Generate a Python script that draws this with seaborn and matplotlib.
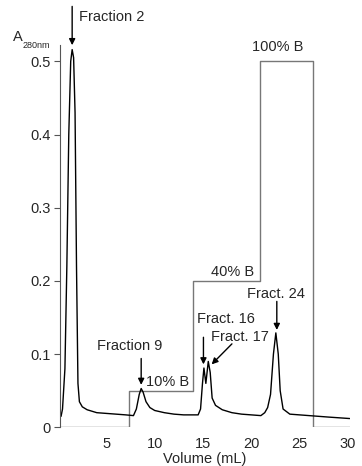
import pandas as pd
import matplotlib.pyplot as plt
import seaborn as sns

# Chromatogram trace (A280)
volume = [0.3, 0.45, 0.7, 0.9, 1.1, 1.3, 1.45, 1.6, 1.75, 1.9, 2.05, 2.2, 2.5, 3.0, 4.0, 5.0, 6.0, 7.0,
          7.8, 8.1, 8.4, 8.6, 8.8, 9.1, 9.5, 10.0, 11.0, 12.0, 13.0, 14.5,
          14.75, 14.95, 15.1, 15.3, 15.55, 15.75, 15.95, 16.3, 17.0, 18.0, 19.0, 20.0, 21.0,
          21.4, 21.7, 22.0, 22.3, 22.55, 22.8, 23.0, 23.3, 24.0, 25.0, 26.0, 28.0, 30.2]
absorbance = [0.015, 0.025, 0.08, 0.22, 0.40, 0.50, 0.516, 0.505, 0.43, 0.22, 0.06, 0.035, 0.028, 0.024,
              0.020, 0.019, 0.018, 0.017,
              0.016, 0.025, 0.045, 0.053, 0.048, 0.035, 0.027, 0.023, 0.020, 0.018, 0.017, 0.017,
              0.025, 0.06, 0.081, 0.06, 0.09, 0.075, 0.04, 0.03, 0.024, 0.020, 0.018, 0.017, 0.016,
              0.02, 0.027, 0.045, 0.10, 0.129, 0.10, 0.05, 0.025, 0.018, 0.017, 0.016, 0.014, 0.012]

# Step gradient (%B scaled to the absorbance axis)
grad_volume = [0.2, 7.3, 7.3, 14.0, 14.0, 20.9, 20.9, 26.4, 26.4, 30.2]
grad_level = [0, 0, 0.05, 0.05, 0.2, 0.2, 0.5, 0.5, 0, 0]

trace = pd.DataFrame({'Volume': volume, 'A280': absorbance})
grad = pd.DataFrame({'Volume': grad_volume, 'B': grad_level})

sns.set_style("ticks")
plt.rcParams['font.family'] = ['Liberation Sans', 'DejaVu Sans']
fs = 10.5

fig = plt.figure(figsize=(3.62, 4.66), dpi=100)
ax = fig.add_axes([0.166, 0.083, 0.80, 0.82])

sns.lineplot(data=grad, x='Volume', y='B', color='#777777', lw=1.0,
             sort=False, estimator=None, ax=ax)
sns.lineplot(data=trace, x='Volume', y='A280', color='black', lw=1.0,
             sort=False, estimator=None, ax=ax)

ax.set_xlim(0.2, 30.2)
ax.set_ylim(0, 0.522)
ax.set_xticks([5, 10, 15, 20, 25, 30])
ax.set_yticks([0, 0.1, 0.2, 0.3, 0.4, 0.5])
ax.set_yticklabels(['0', '0.1', '0.2', '0.3', '0.4', '0.5'])
ax.tick_params(axis='x', length=0, pad=7, labelsize=fs)
ax.tick_params(axis='y', length=4, width=0.8, pad=3, labelsize=fs, color='#555555')
for s in ['top', 'right', 'bottom']:
    ax.spines[s].set_visible(False)
ax.spines['left'].set_color('#555555')
ax.spines['left'].set_linewidth(0.8)
ax.set_xlabel("Volume (mL)", fontsize=fs, labelpad=1)
ax.set_ylabel("")

fig.text(13 / 362, 1 - 37 / 466, "A", fontsize=fs, va='center', ha='left')
fig.text(23 / 362, 1 - 45 / 466, "280nm", fontsize=6.5, va='center', ha='left')

arrow = dict(arrowstyle='-|>', color='black', lw=1.0, mutation_scale=9, shrinkA=0, shrinkB=0)

ax.annotate("", xy=(1.45, 0.522), xytext=(1.45, 0.575), arrowprops=arrow, annotation_clip=False)
ax.text(2.2, 0.56, "Fraction 2", fontsize=fs, va='center', ha='left', clip_on=False)

ax.annotate("", xy=(8.6, 0.058), xytext=(8.6, 0.094), arrowprops=arrow)
ax.text(7.4, 0.111, "Fraction 9", fontsize=fs, va='center', ha='center')
ax.text(9.1, 0.062, "10% B", fontsize=fs, va='center', ha='left')

ax.text(20.3, 0.203, "40% B", fontsize=fs, va='bottom', ha='right')
ax.text(22.7, 0.52, "100% B", fontsize=fs, va='center', ha='center')

ax.annotate("", xy=(15.05, 0.086), xytext=(15.05, 0.123), arrowprops=arrow)
ax.text(17.4, 0.148, "Fract. 16", fontsize=fs, va='center', ha='center')
ax.annotate("", xy=(15.9, 0.086), xytext=(18.0, 0.114), arrowprops=arrow)
ax.text(18.8, 0.123, "Fract. 17", fontsize=fs, va='center', ha='center')

ax.annotate("", xy=(22.65, 0.133), xytext=(22.65, 0.172), arrowprops=arrow)
ax.text(22.6, 0.182, "Fract. 24", fontsize=fs, va='center', ha='center')

plt.savefig("out.png", dpi=100)
